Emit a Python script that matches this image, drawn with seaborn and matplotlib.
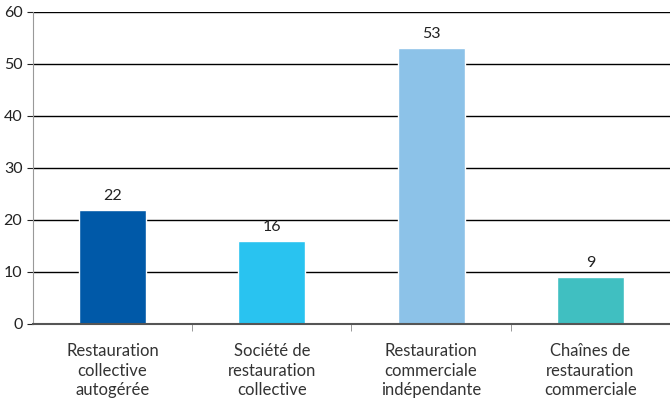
import pandas as pd
import seaborn as sns
import matplotlib.pyplot as plt
from matplotlib.ticker import FixedLocator

# data
categories = ['Restauration\ncollective\nautogérée',
              'Société de\nrestauration\ncollective',
              'Restauration\ncommerciale\nindépendante',
              'Chaînes de\nrestauration\ncommerciale']
values = [22, 16, 53, 9]
colors = ['#0059a8', '#29c3f0', '#8cc2e8', '#40bfc1']

df = pd.DataFrame({'cat': categories, 'val': values})

sns.set_style('white')
plt.rcParams['font.family'] = ['Lato', 'DejaVu Sans']

fig = plt.figure(figsize=(6.7, 3.98), dpi=100)
ax = fig.add_axes([0.049, 0.186, 0.951, 0.784])

sns.barplot(df, x='cat', y='val', hue='cat', palette=colors, legend=False,
            width=0.42, saturation=1, ax=ax)

ax.set_ylim(0, 60)
ax.set_yticks(range(0, 61, 10))
ax.yaxis.grid(True, color='black', linewidth=1)
ax.set_axisbelow(True)
ax.set_xlim(-0.5, 3.5)

# value labels on top of bars
for c in ax.containers:
    ax.bar_label(c, padding=5, fontsize=11.5, color='#222222')

ax.set_xlabel('')
ax.set_ylabel('')
ax.tick_params(axis='x', length=0, labelsize=12, pad=14, colors='#333333')
ax.tick_params(axis='y', length=4, labelsize=11.5, colors='#222222', left=True)
for lbl in ax.get_xticklabels():
    lbl.set_linespacing(1.25)
# separators between categories on the x axis
ax.xaxis.set_minor_locator(FixedLocator([0.5, 1.5, 2.5]))
ax.tick_params(axis='x', which='minor', length=5, color='#888888', bottom=True)

sns.despine(ax=ax, top=True, right=True)
ax.spines['left'].set_color('#999999')
ax.spines['bottom'].set_color('#555555')
ax.spines['bottom'].set_linewidth(1.5)

plt.savefig('out.png', dpi=100)
